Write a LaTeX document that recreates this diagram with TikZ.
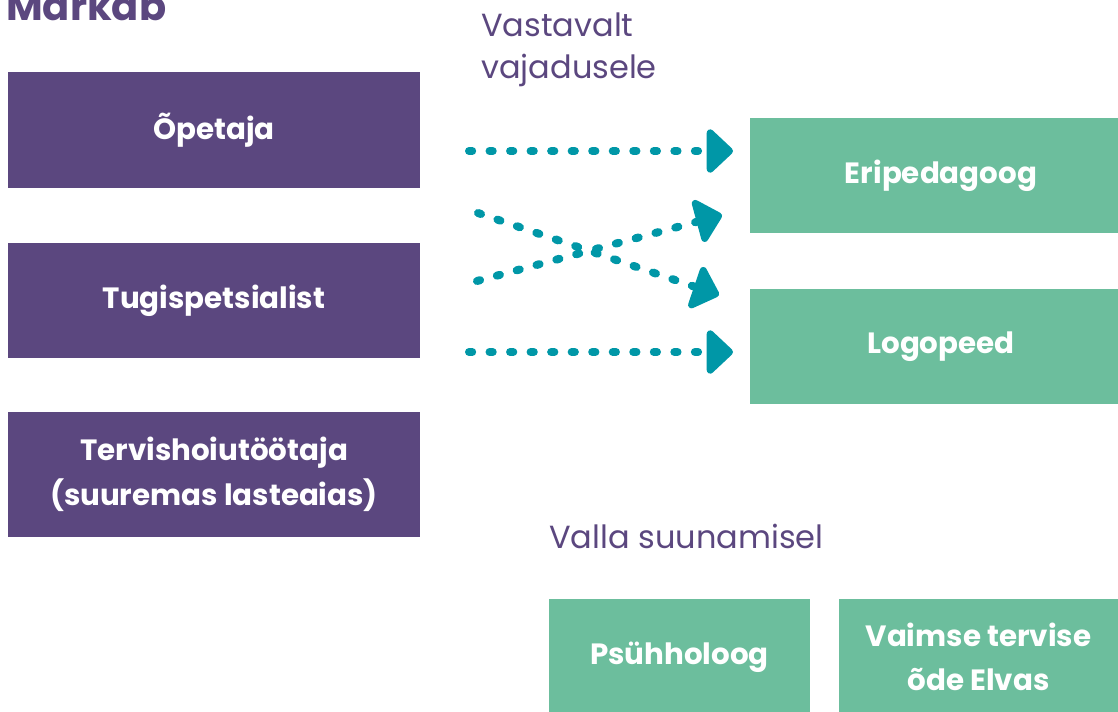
\documentclass[tikz,border=0pt]{standalone}
\usepackage{fontspec}
\setmainfont{Poppins}
\usetikzlibrary{arrows.meta}
\definecolor{purp}{HTML}{5B477F}
\definecolor{grn}{HTML}{6CBE9D}
\definecolor{teal}{HTML}{0097A7}
\tikzset{
  pbox/.style={fill=purp, draw=none, inner sep=0pt, text=white, align=center,
    font=\bfseries\fontsize{22}{33.75}\selectfont, minimum width=309pt},
  gbox/.style={fill=grn, draw=none, inner sep=0pt, text=white, align=center,
    font=\bfseries\fontsize{22}{32.5}\selectfont},
  lbl/.style={text=purp, inner sep=0pt, align=left, font=\fontsize{24}{31.5}\selectfont},
  dotarrow/.style={draw=teal, line width=6pt, line cap=round,
    dash pattern=on 2.4pt off 13pt,
    -{Triangle[length=21pt,width=38pt,round=false]}}
}
\begin{document}
\begin{tikzpicture}[x=0.75pt,y=-0.75pt]
\useasboundingbox (0,0) rectangle (1118,711);
\clip (0,0) rectangle (1118,711);
% title and labels
\node[lbl, anchor=base west, font=\bfseries\fontsize{30}{34}\selectfont] (title) at (6,20) {Märkab};
\node[lbl, anchor=base west] (lblA) at (481,78) {Vastavalt\\vajadusele};
\node[lbl, anchor=base west] (lblB) at (549,548) {Valla suunamisel};
% purple boxes
\node[pbox, minimum height=87pt] (opetaja) at (214,130) {Õpetaja};
\node[pbox, minimum height=86.25pt] (tugi) at (214,300.5) {Tugispetsialist};
\node[pbox, minimum height=93.75pt] (tervis) at (214,474.5) {Tervishoiutöötaja\\(suuremas lasteaias)};
% green boxes
\node[gbox, minimum width=286.5pt, minimum height=86.25pt] (eri) at (941,175.5) {Eripedagoog};
\node[gbox, minimum width=286.5pt, minimum height=86.25pt] (logo) at (941,346.5) {Logopeed};
\node[gbox, minimum width=195.75pt, minimum height=87pt] (psyh) at (679.5,657) {Psühholoog};
\node[gbox, minimum width=209.25pt, minimum height=87pt] (vaimne) at (978.5,657) {Vaimse tervise\\õde Elvas};
% arrow end points
\coordinate (a1s) at (469,151);
\coordinate (a1e) at (733,151);
\coordinate (a2s) at (478,213);
\coordinate (a2e) at (719,295);
\coordinate (a3s) at (477,281);
\coordinate (a3e) at (722,215);
\coordinate (a4s) at (469,352);
\coordinate (a4e) at (733,352);
\draw[dotarrow] (a1s) -- (a1e);
\draw[dotarrow] (a2s) -- (a2e);
\draw[dotarrow] (a3s) -- (a3e);
\draw[dotarrow] (a4s) -- (a4e);
\end{tikzpicture}
\end{document}
